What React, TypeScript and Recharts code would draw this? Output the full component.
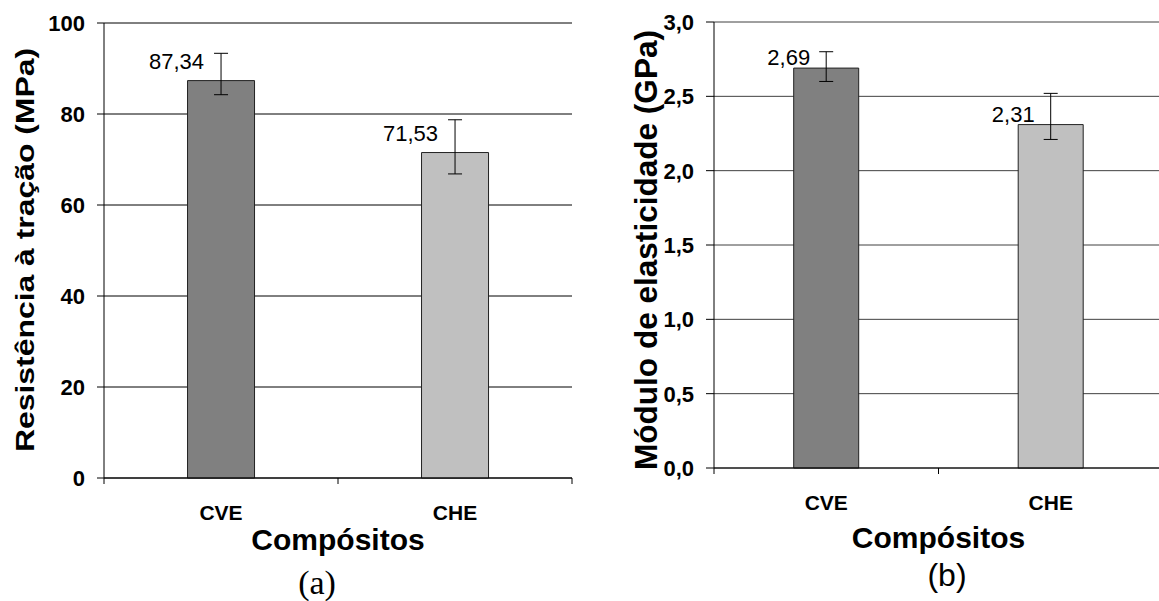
import React from "react";
import {
  Bar,
  BarChart,
  CartesianGrid,
  Cell,
  ErrorBar,
  Label,
  LabelList,
  XAxis,
  YAxis,
} from "recharts";

const categories = ["CVE", "CHE"];
const barFills = ["#808080", "#c0c0c0"];

// (a) tensile strength, MPa
const tensileStrength = [87.34, 71.53];
const tensileErrLow = [3.1, 4.7];
const tensileErrHigh = [6.0, 7.2];
const tensileTicks = [0, 20, 40, 60, 80, 100];

// (b) elastic modulus, GPa
const modulus = [2.69, 2.31];
const modulusErrLow = [0.09, 0.1];
const modulusErrHigh = [0.11, 0.21];
const modulusTicks = [0, 0.5, 1, 1.5, 2, 2.5, 3];

const SANS = "'Liberation Sans', Arial, sans-serif";
const SERIF = "'Liberation Serif', 'Times New Roman', serif";

const tensileData = categories.map((name, i) => ({
  name,
  value: tensileStrength[i],
  err: [tensileErrLow[i], tensileErrHigh[i]],
}));

const modulusData = categories.map((name, i) => ({
  name,
  value: modulus[i],
  err: [modulusErrLow[i], modulusErrHigh[i]],
}));

const comma = (v: number, digits: number) => v.toFixed(digits).replace(".", ",");

// category label plus tick marks on the band boundaries (Excel style)
function CategoryTick(props: any) {
  const { x, y, payload, index, visibleTicksCount, width } = props;
  const count = visibleTicksCount || categories.length;
  const half = width / (2 * count);
  return (
    <g>
      <line x1={x - half} x2={x - half} y1={y} y2={y + 6} stroke="#000" />
      {index === count - 1 && (
        <line x1={x + half} x2={x + half} y1={y} y2={y + 6} stroke="#000" />
      )}
      <text
        x={x}
        y={y + 42}
        textAnchor="middle"
        style={{ fontFamily: SANS, fontWeight: 700, fontSize: 21 }}
        fill="#000"
      >
        {payload.value}
      </text>
    </g>
  );
}

function valueTick(format: (v: number) => string, size: number) {
  return (props: any) => {
    const { x, y, payload } = props;
    return (
      <text
        x={x}
        y={y}
        dy="0.36em"
        textAnchor="end"
        style={{ fontFamily: SANS, fontWeight: 700, fontSize: size }}
        fill="#000"
      >
        {format(payload.value)}
      </text>
    );
  };
}

function valueLabel(dx: number, dy: number, digits: number) {
  return (props: any) => {
    const { x, y, width, value } = props;
    return (
      <text
        x={x + width / 2 + dx}
        y={y + dy}
        textAnchor="end"
        style={{ fontFamily: SANS, fontSize: 22 }}
        fill="#000"
      >
        {comma(Number(value), digits)}
      </text>
    );
  };
}

function yTitle(text: string, x: number, y: number, size: number, length: number) {
  return () => (
    <text
      x={x}
      y={y}
      transform={`rotate(-90, ${x}, ${y})`}
      textAnchor="middle"
      style={{ fontFamily: SANS, fontWeight: 700, fontSize: size }}
      textLength={length}
      lengthAdjust="spacingAndGlyphs"
      fill="#000"
    >
      {text}
    </text>
  );
}

function xTitle(dy: number) {
  return (props: any) => {
    const { viewBox } = props;
    return (
      <text
        x={viewBox.x + viewBox.width / 2}
        y={viewBox.y + dy}
        textAnchor="middle"
        style={{ fontFamily: SANS, fontWeight: 700, fontSize: 30 }}
        fill="#000"
      >
        Compósitos
      </text>
    );
  };
}

type PanelProps = {
  data: { name: string; value: number; err: number[] }[];
  width: number;
  margin: { top: number; right: number; bottom: number; left: number };
  yWidth: number;
  domain: [number, number];
  ticks: number[];
  tickFormat: (v: number) => string;
  tickFont: number;
  tickSize: number;
  gridColor: string;
  gap: string;
  digits: number;
  labelDx: number;
  labelDy: number;
  title: React.ReactNode;
  titleDy: number;
};

function Panel(p: PanelProps) {
  return (
    <BarChart
      width={p.width}
      height={601}
      data={p.data}
      margin={p.margin}
      barCategoryGap={p.gap}
    >
      <CartesianGrid vertical={false} stroke={p.gridColor} />
      <XAxis
        dataKey="name"
        height={90}
        tickLine={false}
        tickSize={0}
        tickMargin={0}
        axisLine={{ stroke: "#000" }}
        tick={<CategoryTick />}
      >
        <Label content={xTitle(p.titleDy)} />
      </XAxis>
      <XAxis
        xAxisId="frame"
        dataKey="name"
        orientation="top"
        height={0}
        tick={false}
        tickLine={false}
        axisLine={{ stroke: "#9a9a9a" }}
      />
      <YAxis
        width={p.yWidth}
        domain={p.domain}
        ticks={p.ticks}
        interval={0}
        tickSize={p.tickSize}
        tickMargin={12}
        axisLine={{ stroke: "#000" }}
        tickLine={{ stroke: "#000" }}
        tick={valueTick(p.tickFormat, p.tickFont)}
      >
        <Label content={p.title as any} />
      </YAxis>
      <YAxis
        yAxisId="frame"
        orientation="right"
        width={0}
        domain={p.domain}
        tick={false}
        tickLine={false}
        axisLine={{ stroke: "#9a9a9a" }}
      />
      <Bar dataKey="value" stroke="#222" strokeWidth={1} isAnimationActive={false}>
        {p.data.map((d, i) => (
          <Cell key={d.name} fill={barFills[i]} />
        ))}
        <ErrorBar
          dataKey="err"
          direction="y"
          width={7}
          stroke="#000"
          strokeWidth={1}
          isAnimationActive={false}
        />
        <LabelList
          dataKey="value"
          content={valueLabel(p.labelDx, p.labelDy, p.digits)}
        />
      </Bar>
    </BarChart>
  );
}

export default function App() {
  return (
    <div
      style={{
        position: "absolute",
        left: 0,
        top: 0,
        width: 1159,
        height: 601,
        overflow: "hidden",
        background: "#fff",
      }}
    >
      <div style={{ position: "absolute", left: 0, top: 0 }}>
        <Panel
          data={tensileData}
          width={580}
          margin={{ top: 23, right: 8, bottom: 33, left: 0 }}
          yWidth={104}
          domain={[0, 100]}
          ticks={tensileTicks}
          tickFormat={(v) => String(v)}
          tickFont={22}
          tickSize={7}
          gridColor="#000"
          gap="35.7%"
          digits={2}
          labelDx={-17}
          labelDy={-12}
          title={yTitle("Resistência à tração (MPa)", 34, 250, 25, 404)}
          titleDy={72}
        />
      </div>
      <div style={{ position: "absolute", left: 600, top: 0 }}>
        <Panel
          data={modulusData}
          width={563}
          margin={{ top: 22, right: 0, bottom: 43, left: 0 }}
          yWidth={114}
          domain={[0, 3]}
          ticks={modulusTicks}
          tickFormat={(v) => comma(v, 1)}
          tickFont={22}
          tickSize={8}
          gridColor="#404040"
          gap="35.5%"
          digits={2}
          labelDx={-16}
          labelDy={-3}
          title={yTitle("Módulo de elasticidade (GPa)", 57, 250, 31, 440)}
          titleDy={80}
        />
      </div>
      <div
        style={{
          position: "absolute",
          left: 267,
          width: 100,
          top: 563,
          textAlign: "center",
          fontFamily: SERIF,
          fontSize: 34,
          lineHeight: "40px",
        }}
      >
        (a)
      </div>
      <div
        style={{
          position: "absolute",
          left: 897,
          width: 100,
          top: 555,
          textAlign: "center",
          fontFamily: SANS,
          fontSize: 32,
          lineHeight: "40px",
        }}
      >
        (b)
      </div>
    </div>
  );
}
